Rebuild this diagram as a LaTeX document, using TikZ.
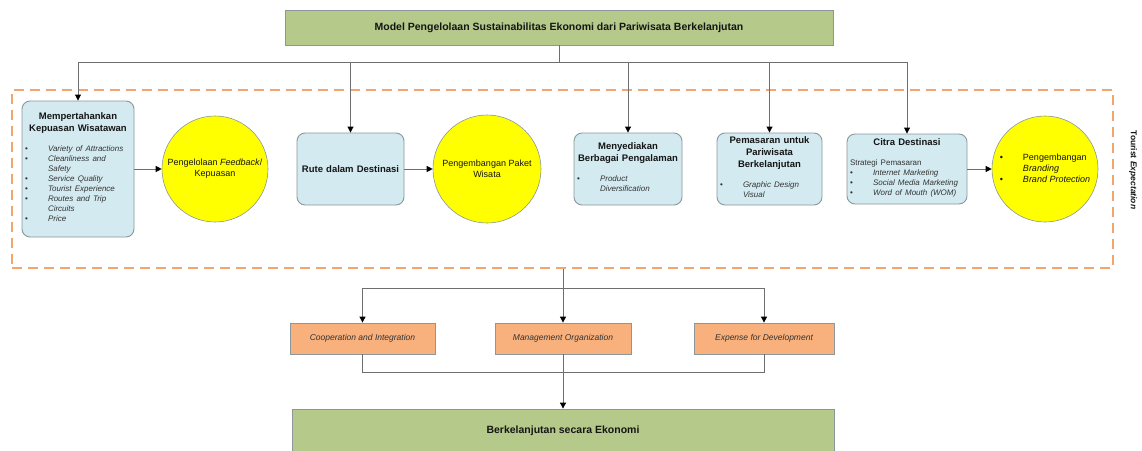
\documentclass[tikz,border=0pt]{standalone}
\usepackage{fontspec}
\setmainfont{Liberation Sans}
\usepackage{array}
\usetikzlibrary{positioning,arrows.meta}

\definecolor{titlegreen}{HTML}{B4C98A}
\definecolor{boxblue}{HTML}{D3EAF0}
\definecolor{boxedge}{HTML}{8A979B}
\definecolor{goalyellow}{HTML}{FFFF00}
\definecolor{factororange}{HTML}{F8B07C}
\definecolor{dashorange}{HTML}{F2A66E}
\definecolor{linegray}{HTML}{6E6E6E}
\definecolor{textdark}{HTML}{151515}
\definecolor{itemgray}{HTML}{333333}

\newlength\lstw
\newcommand{\lst}[1]{{\setlength\lstw{\dimexpr\hsize-23pt\relax}%
  \fontsize{8}{10}\selectfont\mdseries\itshape\color{itemgray}%
  \begin{tabular}[t]{@{}>{\raggedright\arraybackslash}p{23pt}@{}>{\raggedright\arraybackslash}p{\lstw}@{}}#1\end{tabular}}}
\newcommand{\bt}{\upshape\textbullet}

\begin{document}
\begin{tikzpicture}
    [x=1pt, y=-1pt,
     titlebox/.style={draw=boxedge, fill=titlegreen, line width=0.8pt,
       text=textdark, font=\fontsize{10.5}{12}\selectfont\bfseries},
     infobox/.style={draw=boxedge, fill=boxblue, line width=0.9pt, rounded corners=8pt,
       inner sep=3pt, align=center, text=textdark,
       font=\fontsize{9.5}{12}\selectfont\bfseries},
     goalcircle/.style={circle, draw=boxedge, fill=goalyellow, line width=0.6pt,
       inner sep=0pt, align=center, text=textdark,
       font=\fontsize{9}{11}\selectfont},
     factorbox/.style={draw=boxedge, fill=factororange, line width=0.8pt,
       minimum height=31pt, text=itemgray, font=\fontsize{8.5}{10}\selectfont\itshape},
     expectframe/.style={draw=dashorange, line width=1.4pt, dash pattern=on 10pt off 6pt},
     line/.style={draw=linegray, line width=0.9pt},
     arr/.style={line, -{Triangle[length=6pt, width=6pt, color=black]}}]
    \useasboundingbox (0,0) rectangle (1142,450);

    % top
    \node[titlebox, minimum width=548pt, minimum height=35pt] (model) at (559,27.5)
        {Model Pengelolaan Sustainabilitas Ekonomi dari Pariwisata Berkelanjutan};
    \node[expectframe, minimum width=1101pt, minimum height=178pt] (expect) at (562.5,179) {};
    \node[rotate=-90, text=textdark, font=\fontsize{8.5}{10}\selectfont\bfseries] (tourist) at (1133,170)
        {Tourist \textit{Expectation}};

    % blue boxes
    \node[infobox, minimum width=112pt, minimum height=136pt, text width=106pt] (keep) at (78,169)
        {Mempertahankan\\Kepuasan Wisatawan\\[8pt]
         \lst{\bt & Variety of Attractions\\ \bt & Cleanliness and\\ & Safety\\
              \bt & Service Quality\\ \bt & Tourist Experience\\ \bt & Routes and Trip\\
              & Circuits\\ \bt & Price}};
    \node[infobox, minimum width=107pt, minimum height=72pt, text width=101pt] (route) at (350.5,169)
        {Rute dalam Destinasi};
    \node[infobox, minimum width=108pt, minimum height=72pt, text width=102pt] (offer) at (628,169)
        {Menyediakan\\Berbagai Pengalaman\\[8pt]
         \lst{\bt & Product\\ & Diversification}};
    \node[infobox, minimum width=105pt, minimum height=72pt, text width=99pt] (promo) at (769.5,169)
        {Pemasaran untuk\\Pariwisata\\Berkelanjutan\\[8pt]
         \lst{\bt & Graphic Design\\ & Visual}};
    \node[infobox, minimum width=120pt, minimum height=70pt, text width=114pt] (image) at (907,169)
        {Citra Destinasi\\[8pt]
         \lst{\multicolumn{2}{@{}l@{}}{\upshape Strategi Pemasaran}\\
              \bt & Internet Marketing\\ \bt & Social Media Marketing\\ \bt & Word of Mouth (WOM)}};

    % yellow circles
    \node[goalcircle, minimum size=106pt] (feedback) at (215,169)
        {Pengelolaan \textit{Feedback}/\\Kepuasan};
    \node[goalcircle, minimum size=108pt] (package) at (487,169)
        {Pengembangan Paket\\Wisata};
    \node[goalcircle, minimum size=106pt] (brand) at (1045,169)
        {\begin{tabular}{@{}p{23pt}@{}l@{}}
           \textbullet & Pengembangan\\ & \textit{Branding}\\ \textbullet & \textit{Brand Protection}
         \end{tabular}};

    % bottom
    \node[factorbox, minimum width=145pt] (coop) at (362.5,338.5) {Cooperation and Integration};
    \node[factorbox, minimum width=136pt] (mgmt) at (563,338.5) {Management Organization};
    \node[factorbox, minimum width=140pt] (expense) at (764,338.5) {Expense for Development};
    \node[titlebox, minimum width=542pt, minimum height=43pt] (result) at (563,430.5)
        {Berkelanjutan secara Ekonomi};

    % connectors
    \coordinate (hub) at ([yshift=-17pt]model.south);
    \draw[line] (model.south) -- (hub);
    \foreach \n in {keep,route,offer,promo,image}
        \draw[arr] (hub) -| (\n.north);
    \draw[arr] (keep) -- (feedback);
    \draw[arr] (route) -- (package);
    \draw[arr] (image) -- (brand);

    \coordinate (split) at ([yshift=-20pt]expect.south -| mgmt.north);
    \draw[arr] (expect.south -| mgmt.north) -- (mgmt.north);
    \draw[arr] (split) -| (coop.north);
    \draw[arr] (split) -| (expense.north);
    \coordinate (join) at ([yshift=-18pt]coop.south);
    \draw[line] (coop.south) -- (join) -| (expense.south);
    \draw[arr] (mgmt.south) -- (result.north);
\end{tikzpicture}
\end{document}
